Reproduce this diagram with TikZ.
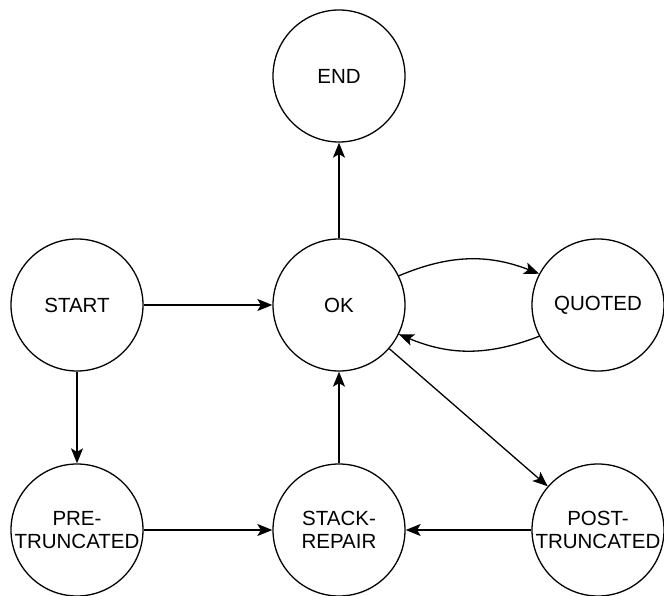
\documentclass[tikz,border=0pt]{standalone}
\usepackage{fontspec}
\setmainfont{Liberation Sans}
\usepackage{tikz}
\usetikzlibrary{arrows.meta}

\tikzset{
	state/.style={draw, circle, line width=1.3pt, minimum size=132pt, inner sep=0pt,
		align=center, font=\fontsize{20.5}{23}\selectfont},
	trans/.style={-{Stealth[length=15pt, width=12pt, inset=3.5pt]}, line width=1.3pt}
}

\begin{document}
\begin{tikzpicture}[x=1pt, y=-1pt]
		\useasboundingbox (0,0) rectangle (664,596);
		\node[state] (end) at (339,76) {END};
		\node[state] (start) at (77,305) {START};
		\node[state] (ok) at (339,305) {OK};
		\node[state] (quoted) at (598,305) {QUOTED};
		\node[state] (pre) at (77,530) {PRE-\\TRUNCATED};
		\node[state] (stack) at (339,530) {STACK-\\REPAIR};
		\node[state] (post) at (598,530) {POST-\\TRUNCATED};
		
		\draw[trans] (start) -- (ok);
		\draw[trans] (ok) -- (end);
		\draw[trans] (start) -- (pre);
		\draw[trans] (pre) -- (stack);
		\draw[trans] (post) -- (stack);
		\draw[trans] (stack) -- (ok);
		\draw[trans] (ok) -- (post);
		\draw[trans] (ok.26) to[bend left=22] (quoted.152);
		\draw[trans] (quoted.208) to[bend left=22] (ok.334);
	\end{tikzpicture}
\end{document}
